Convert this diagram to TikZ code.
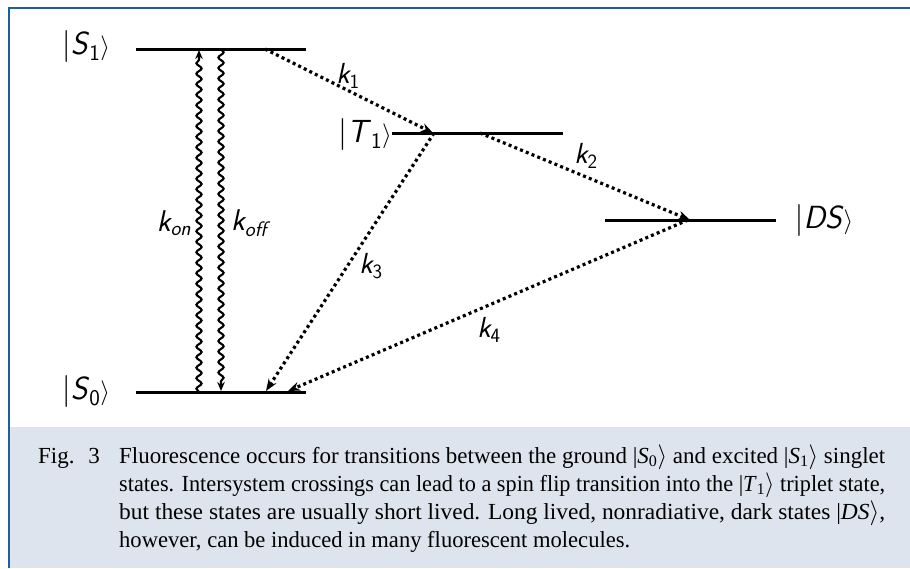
\documentclass[tikz,border=0pt]{standalone}
\usepackage{fontspec}
\usepackage{graphicx}
\usetikzlibrary{arrows.meta,decorations.pathmorphing}
\newfontfamily\capfont{Liberation Serif}
\definecolor{framecol}{RGB}{28,94,160}
\definecolor{capbg}{RGB}{222,228,238}
\begin{document}
\begin{tikzpicture}[x=1pt,y=-1pt,
  level/.style={line width=3pt},
  wavy/.style={line width=2.1pt, decorate,
    decoration={snake,amplitude=2.6pt,segment length=10.5pt,post length=8pt},
    -{Stealth[length=9pt,width=7.5pt]}},
  dotarrow/.style={line width=3.2pt, dash pattern=on 3pt off 3.2pt,
    -{Stealth[length=12pt,width=9pt]}},
  ket/.style={font=\fontsize{32}{36}\selectfont\sffamily, inner sep=0pt},
  klab/.style={font=\fontsize{29}{32}\selectfont\sffamily\itshape, inner sep=0pt},
  klabbig/.style={font=\fontsize{30}{34}\selectfont\sffamily\itshape, inner sep=0pt},
  captext/.style={font=\fontsize{23}{28}\selectfont\capfont, inner sep=0pt, anchor=base west}]
\useasboundingbox (0,0) rectangle (910,568);
\fill[white] (0,0) rectangle (910,568);
\fill[capbg] (10,427) rectangle (910,568);
\draw[framecol, line width=2.6pt] (9,568) -- (9,8) -- (910,8);

% energy levels
\coordinate (S1a) at (136,49);  \coordinate (S1b) at (306,49);
\coordinate (S0a) at (136,392); \coordinate (S0b) at (306,392);
\coordinate (T1a) at (392,133); \coordinate (T1b) at (563,133);
\coordinate (DSa) at (605,220); \coordinate (DSb) at (776,220);
\draw[level] (S1a) -- (S1b);
\draw[level] (S0a) -- (S0b);
\draw[level] (T1a) -- (T1b);
\draw[level] (DSa) -- (DSb);

% state labels
\node[ket] (S1lab) at (86,46) {|\textit{S}\textsubscript{1}$\rangle$};
\node[ket] (S0lab) at (86,391) {|\textit{S}\textsubscript{0}$\rangle$};
\node[ket] (T1lab) at (365,134) {|\textit{T}\textsubscript{1}$\rangle$};
\node[ket] (DSlab) at (824,220) {|\textit{DS}$\rangle$};

% wavy transitions
\coordinate (on0) at (199,392); \coordinate (on1) at (199,50);
\coordinate (off0) at (221,49); \coordinate (off1) at (221,391);
\draw[wavy] (on0) -- (on1);
\draw[wavy] (off0) -- (off1);
\node[klabbig] (kon) at (174,223) {k\textsubscript{on}};
\node[klabbig] (koff) at (249,223) {k\textsubscript{off}};

% dotted transitions
\coordinate (k1s) at (265,49);  \coordinate (k1e) at (433,133);
\coordinate (k2s) at (480,133); \coordinate (k2e) at (690,220);
\coordinate (k3s) at (434,133); \coordinate (k3e) at (266,391);
\coordinate (k4s) at (688,220); \coordinate (k4e) at (288,391);
\draw[dotarrow] (k1s) -- (k1e);
\draw[dotarrow] (k2s) -- (k2e);
\draw[dotarrow] (k3s) -- (k3e);
\draw[dotarrow] (k4s) -- (k4e);
\node[klab] (k1) at (348,76) {k\textsubscript{\upshape 1}};
\node[klab] (k2) at (586,156) {k\textsubscript{\upshape 2}};
\node[klab] (k3) at (371,266) {k\textsubscript{\upshape 3}};
\node[klab] (k4) at (489,330) {k\textsubscript{\upshape 4}};

% caption
\node[captext] (fig) at (38,463) {Fig.\hspace{0.6em}3};
\node[captext] (c1) at (119,463) {\resizebox{766pt}{\height}{Fluorescence occurs for transitions between the ground |\textit{S}\textsubscript{0}$\rangle$ and excited |\textit{S}\textsubscript{1}$\rangle$ singlet}};
\node[captext] (c2) at (119,491) {\resizebox{766pt}{\height}{states. Intersystem crossings can lead to a spin flip transition into the |\textit{T}\textsubscript{1}$\rangle$ triplet state,}};
\node[captext] (c3) at (119,519) {\resizebox{766pt}{\height}{but these states are usually short lived. Long lived, nonradiative, dark states |\textit{DS}$\rangle$,}};
\node[captext] (c4) at (119,547) {\resizebox{511pt}{\height}{however, can be induced in many fluorescent molecules.}};
\end{tikzpicture}
\end{document}
